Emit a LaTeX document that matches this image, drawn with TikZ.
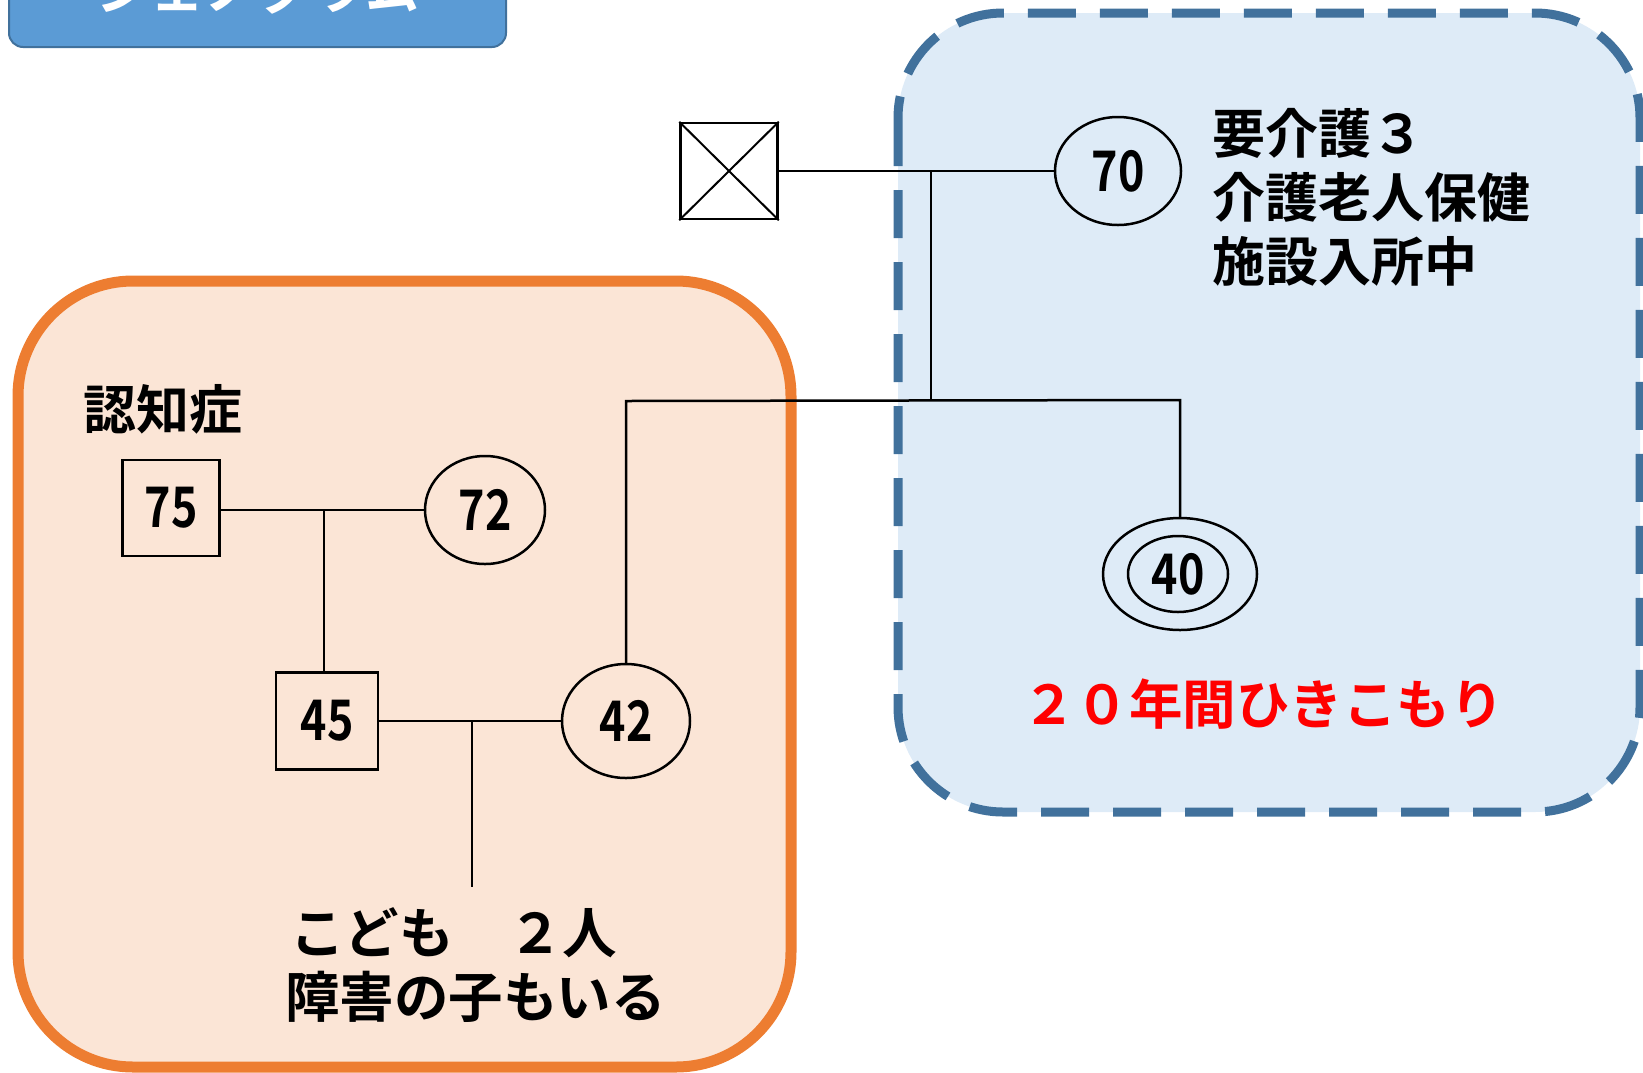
\documentclass[tikz,border=0pt]{standalone}
\usepackage{fontspec}
\usepackage{graphicx}
\usetikzlibrary{shapes.geometric}
\newfontfamily\jp{Noto Sans CJK JP}[BoldFont={Noto Sans CJK JP Bold}]
\definecolor{hdrblue}{HTML}{5B9BD5}
\definecolor{hdrborder}{HTML}{41719C}
\definecolor{dashblue}{HTML}{41719C}
\definecolor{lightblue}{HTML}{DEEBF7}
\definecolor{orangeline}{HTML}{ED7D31}
\definecolor{peach}{HTML}{FBE5D6}
\newcommand\cnd[1]{\scalebox{0.8}[1]{#1}}
\begin{document}
\begin{tikzpicture}[x=1pt,y=-1pt,
  link/.style={line width=2.5pt},
  person/.style={draw, line width=2.5pt, inner sep=0pt,
    font=\jp\bfseries\fontsize{56}{56}\selectfont},
  male/.style={person, rectangle, minimum width=97pt, minimum height=96pt},
  female/.style={person, ellipse},
  jtext/.style={font=\jp\bfseries\fontsize{53}{64}\selectfont, align=left, inner sep=0pt},
  region/.style={line width=10pt}]
\useasboundingbox (0,0) rectangle (1643,1072);
\clip (0,0) rectangle (1643,1072);

% header
\node[draw=hdrborder, fill=hdrblue, line width=2pt, rounded corners=14pt,
  minimum width=497pt, minimum height=107pt] (hdr) at (257.5,-6.5) {};
\node[anchor=base, text=white, font=\jp\bfseries\fontsize{54}{54}\selectfont, inner sep=0pt]
  (title) at (258,9) {ジェノグラム};

% regions
\draw[region, draw=orangeline, fill=peach, line width=11pt, rounded corners=115pt]
  (18,281) rectangle (791,1067);
\draw[region, draw=dashblue, fill=lightblue, line width=9pt, rounded corners=105pt,
  dash pattern=on 48pt off 24pt] (898,13) rectangle (1640,812);

% persons
\node[male] (d) at (729,171) {};
\draw[line width=2pt] (d.north west) -- (d.south east) (d.north east) -- (d.south west);
\node[female, minimum width=126pt, minimum height=108pt] (m70) at (1118,171) {\cnd{70}};
\node[female, minimum width=154pt, minimum height=112pt] (f40) at (1180,574) {};
\node[female, minimum width=100pt, minimum height=76pt] (f40in) at (1178,574) {\cnd{40}};

\node[male] (gf75) at (171,508) {\cnd{75}};
\node[female, minimum width=120pt, minimum height=108pt] (gm72) at (485,510) {\cnd{72}};
\node[male, minimum width=102pt, minimum height=97pt] (h45) at (327,721) {\cnd{45}};
\node[female, minimum width=128pt, minimum height=114pt] (w42) at (626,721) {\cnd{42}};

% connectors
\draw[link] (d.east) -- (m70.west);
\coordinate (j1) at (931,171);
\coordinate (j2) at (931,400);
\draw[link] (j1) -- (j2);
\coordinate (cL) at (626,401);
\coordinate (cR) at (1180,400);
\draw[link] (w42.north) -- (cL) -- (cR) -- (f40.north);

\draw[link] (gf75.east |- gm72.west) -- (gm72.west);
\coordinate (j3) at (324,510);
\draw[link] (j3) -- (j3 |- h45.north);
\draw[link] (h45.east) -- (w42.west);
\coordinate (j4) at (472,721);
\coordinate (kids) at (472,887);
\draw[link] (j4) -- (kids);

% texts
\node[jtext, anchor=west] (care) at (1212,197) {要介護３\\介護老人保健\\施設入所中};
\node[jtext, anchor=west, text=red, font=\jp\bfseries\fontsize{53.5}{64}\selectfont] (hiki) at (1022,704) {２０年間ひきこもり};
\node[jtext, anchor=west] (ninchi) at (83,409) {認知症};
\node[jtext, anchor=west, font=\jp\bfseries\fontsize{54.5}{64}\selectfont] (kidtext) at (285,965) {\hspace*{5pt}こども　２人\\障害の子もいる};
\end{tikzpicture}
\end{document}
